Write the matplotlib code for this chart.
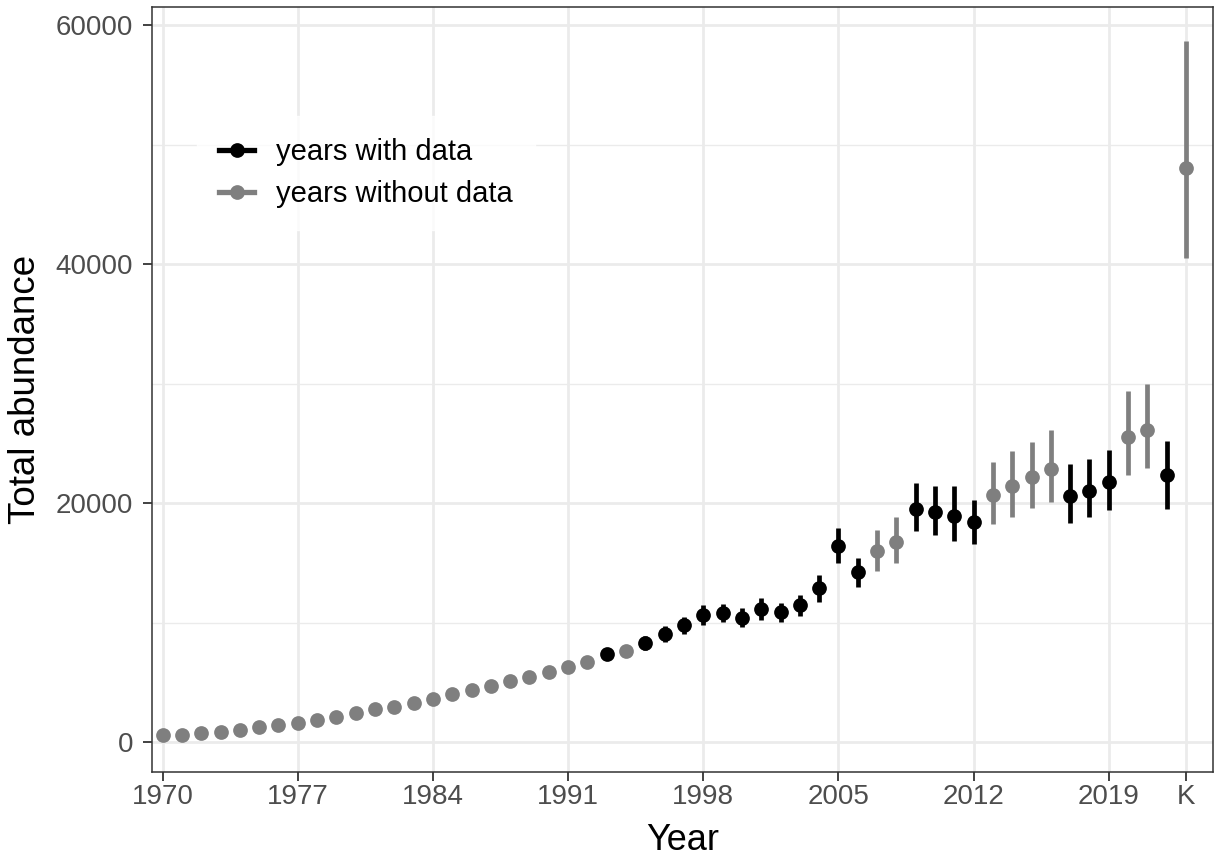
import matplotlib
matplotlib.use("Agg")
import matplotlib.pyplot as plt
from matplotlib.lines import Line2D
from matplotlib.ticker import FixedLocator

# yearly estimates (K = carrying capacity, drawn after 2022)
years = list(range(1970, 2023))
abundance = [650, 650, 750, 890, 1030, 1250, 1450, 1650, 1870, 2150,
             2430, 2760, 2980, 3320, 3650, 4020, 4380, 4710, 5100, 5470,
             5910, 6280, 6720, 7390, 7650, 8330, 9050, 9780, 10640, 10840,
             10420, 11170, 10870, 11450, 12880, 16450, 14220, 16000, 16790, 19530,
             19300, 18970, 18410, 20700, 21420, 22180, 22820, 20640, 21060, 21760,
             25530, 26150, 22320]
lower = [650, 650, 750, 890, 1030, 1250, 1450, 1650, 1870, 2150,
         2430, 2760, 2980, 3320, 3650, 4020, 4380, 4710, 5100, 5470,
         5910, 6280, 6720, 7050, 7650, 7750, 8350, 9080, 9800, 10090,
         9620, 10270, 10070, 10550, 11730, 14980, 13000, 14300, 15000, 17710,
         17380, 16820, 16600, 18270, 18880, 19580, 20140, 18360, 18830, 19390,
         22400, 22930, 19530]
upper = [650, 650, 750, 890, 1030, 1250, 1450, 1650, 1870, 2150,
         2430, 2760, 2980, 3320, 3650, 4020, 4380, 4710, 5100, 5470,
         5910, 6280, 6720, 7730, 7650, 8910, 9750, 10480, 11480, 11590,
         11220, 12070, 11670, 12350, 14030, 17920, 15450, 17730, 18830, 21680,
         21420, 21420, 20310, 23430, 24350, 25110, 26090, 23240, 23680, 24470,
         29350, 30000, 25190]
with_data = [0, 0, 0, 0, 0, 0, 0, 0, 0, 0,
             0, 0, 0, 0, 0, 0, 0, 0, 0, 0,
             0, 0, 0, 1, 0, 1, 1, 1, 1, 1,
             1, 1, 1, 1, 1, 1, 1, 0, 0, 1,
             1, 1, 1, 0, 0, 0, 0, 1, 1, 1,
             0, 0, 1]
k_value, k_lower, k_upper = 48010, 40500, 58660

x_ticks = [1970, 1977, 1984, 1991, 1998, 2005, 2012, 2019, 2023]
x_labels = ["1970", "1977", "1984", "1991", "1998", "2005", "2012", "2019", "K"]
y_ticks = [0, 20000, 40000, 60000]

BLACK = "#000000"
GREY = "#7f7f7f"
MS = 10.6
LW = 3.4

plt.rcParams["font.family"] = ["Liberation Sans", "DejaVu Sans"]

fig = plt.figure(figsize=(12.15, 8.61), dpi=100)
ax = fig.add_axes([0.1251, 0.1037, 0.8733, 0.8878])

# grid like theme_bw
ax.set_axisbelow(True)
for y in [10000, 30000, 50000]:
    ax.axhline(y, color="#ebebeb", lw=1.0, zorder=0)
ax.grid(True, color="#ebebeb", lw=2.0, zorder=0)

for flag, col in [(0, GREY), (1, BLACK)]:
    xs = [yr for yr, f in zip(years, with_data) if f == flag]
    ys = [v for v, f in zip(abundance, with_data) if f == flag]
    lo = [v - l for v, l, f in zip(abundance, lower, with_data) if f == flag]
    hi = [u - v for v, u, f in zip(abundance, upper, with_data) if f == flag]
    ax.errorbar(xs, ys, yerr=[lo, hi], fmt="o", color=col, ecolor=col,
                elinewidth=LW, markersize=MS, markeredgewidth=0,
                capsize=0, zorder=3)

ax.errorbar([2023], [k_value], yerr=[[k_value - k_lower], [k_upper - k_value]],
            fmt="o", color=GREY, ecolor=GREY, elinewidth=LW, markersize=MS,
            markeredgewidth=0, capsize=0, zorder=3)

ax.set_xlim(1969.45, 2024.4)
ax.set_ylim(-2460, 61480)
ax.xaxis.set_major_locator(FixedLocator(x_ticks))
ax.set_xticklabels(x_labels)
ax.set_yticks(y_ticks)

for sp in ax.spines.values():
    sp.set_color("#333333")
    sp.set_linewidth(1.1)
ax.tick_params(axis="both", colors="#333333", length=6.5, width=1.3,
               labelsize=20, labelcolor="#4d4d4d")
ax.tick_params(axis="x", pad=2)
ax.tick_params(axis="y", pad=7)

ax.set_xlabel("Year", fontsize=26, labelpad=10)
ax.set_ylabel("Total abundance", fontsize=26.5, labelpad=9)

handles = [
    Line2D([0], [0], color=BLACK, lw=LW + 0.4, marker="o", markersize=MS,
           markeredgewidth=0),
    Line2D([0], [0], color=GREY, lw=LW + 0.4, marker="o", markersize=MS,
           markeredgewidth=0),
]
leg = ax.legend(handles, ["years with data", "years without data"],
                loc="upper left", bbox_to_anchor=(0.029, 0.877), fontsize=21,
                frameon=True, handlelength=1.2, handletextpad=0.75,
                labelspacing=0.5, borderpad=0.75, fancybox=False)
leg.get_frame().set_facecolor("white")
leg.get_frame().set_edgecolor("white")

fig.savefig("out.png", dpi=100, facecolor="white")
